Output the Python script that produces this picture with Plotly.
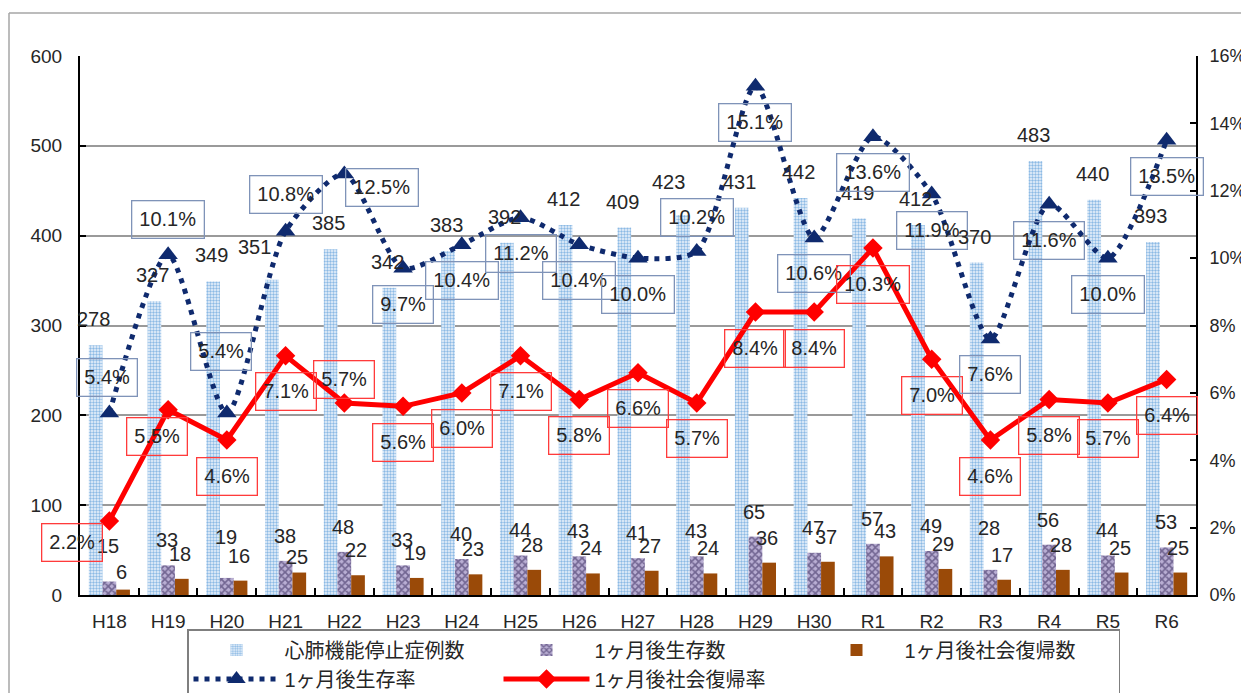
import plotly.graph_objects as go

# ── Data ──────────────────────────────────────────────────────────────────────

YEARS = ["H18", "H19", "H20", "H21", "H22", "H23", "H24", "H25", "H26", "H27",
         "H28", "H29", "H30", "R1", "R2", "R3", "R4", "R5", "R6"]
CASES = [278, 327, 349, 351, 385, 342, 383, 392, 412, 409,
         423, 431, 442, 419, 412, 370, 483, 440, 393]
SURVIVED = [15, 33, 19, 38, 48, 33, 40, 44, 43, 41,
            43, 65, 47, 57, 49, 28, 56, 44, 53]
RETURNED = [6, 18, 16, 25, 22, 19, 23, 28, 24, 27,
            24, 36, 37, 43, 29, 17, 28, 25, 25]
SURVIVAL_RATE = [5.4, 10.1, 5.4, 10.8, 12.5, 9.7, 10.4, 11.2, 10.4, 10.0,
                 10.2, 15.1, 10.6, 13.6, 11.9, 7.6, 11.6, 10.0, 13.5]
RETURN_RATE = [2.2, 5.5, 4.6, 7.1, 5.7, 5.6, 6.0, 7.1, 5.8, 6.6,
               5.7, 8.4, 8.4, 10.3, 7.0, 4.6, 5.8, 5.7, 6.4]
RATE_TICKS = list(range(0, 17, 2))

NAMES = ["心肺機能停止症例数", "1ヶ月後生存数", "1ヶ月後社会復帰数",
         "1ヶ月後生存率", "1ヶ月後社会復帰率"]

# ── Styling ───────────────────────────────────────────────────────────────────

# the page body has an 8px margin, so the figure is drawn 8px in from the corner
OFFSET = 8
W, H = 1249 - OFFSET, 693 - OFFSET
L, R, T, B = 80 - OFFSET, 53, 56 - OFFSET, 98
PLOT_W = W - L - R
PLOT_H = H - T - B
CAT_W = PLOT_W / len(YEARS)
BARGAP = 0.3
BAR_W = CAT_W * (1 - BARGAP) / 3

TEXT = "#262626"
NAVY = "#0f2a6e"
RED = "#ff0000"
BROWN = "#9a4a08"
BOX_BLUE = "#7f93b8"
BOX_RED = "#ff3b3b"
FRAME = "#a6a6a6"
FONT = "Liberation Sans, Arial, Noto Sans CJK JP, sans-serif"

# label nudges (px): (dx, dy_up) overrides of the default placement
CASE_NUDGE = {"H21": (-17, 33), "H28": (-15, 33)}
SURV_NUDGE = {"H18": (-1, 36), "H20": (-1, 41), "R3": (-1, 42)}
RET_NUDGE = {"H18": (-2, 18), "H21": (-2, 16)}
SRATE_NUDGE = {"H18": (-2, 36), "H19": (0, 35), "H20": (-6, 62), "H21": (0, 37),
               "H22": (38, -14), "H28": (0, 34)}
RRATE_NUDGE = {"H18": (-37, -22), "H19": (-11, -27), "H22": (0, 23)}


def px_to_paper_x(px):
    # px is a page pixel of the 1249x693 picture
    return (px - OFFSET - L) / PLOT_W


def px_to_paper_y(py):
    return (T + PLOT_H - (py - OFFSET)) / PLOT_H


fig = go.Figure()

fig.add_trace(go.Bar(
    x=YEARS, y=CASES, name=NAMES[0],
    marker=dict(color="#eef5fc", line=dict(width=0),
                pattern=dict(shape=".", fgcolor="#2a80cc", bgcolor="#eef5fc",
                             size=3, solidity=0.5)),
))
fig.add_trace(go.Bar(
    x=YEARS, y=SURVIVED, name=NAMES[1],
    marker=dict(color="#a99cc8", line=dict(width=0),
                pattern=dict(shape="x", fgcolor="#2a1c50", bgcolor="#b9aed3",
                             size=5, solidity=0.55)),
))
fig.add_trace(go.Bar(
    x=YEARS, y=RETURNED, name=NAMES[2],
    marker=dict(color=BROWN, line=dict(width=0)),
))
fig.add_trace(go.Scatter(
    x=YEARS, y=SURVIVAL_RATE, name=NAMES[3], yaxis="y2",
    mode="lines+markers", cliponaxis=False,
    line=dict(color=NAVY, width=5, dash="5px,6px", shape="spline", smoothing=0.7),
    marker=dict(symbol="triangle-up", size=17, color=NAVY),
))
fig.add_trace(go.Scatter(
    x=YEARS, y=RETURN_RATE, name=NAMES[4], yaxis="y2",
    mode="lines+markers", cliponaxis=False,
    line=dict(color=RED, width=5),
    marker=dict(symbol="diamond", size=15, color=RED),
))

annotations = []


def count_label(year, value, bar_dx, nudge, default_up=25, default_dx=-2):
    dx, up = nudge.get(year, (default_dx, default_up))
    annotations.append(dict(
        x=year, y=value, xref="x", yref="y", text=str(value),
        showarrow=False, xshift=bar_dx + dx, yshift=up, yanchor="middle",
        font=dict(size=20, color=TEXT),
    ))


def rate_label(year, value, nudge, border):
    dx, up = nudge.get(year, (0, -36))
    annotations.append(dict(
        x=year, y=value, xref="x", yref="y2", text=f"{value:.1f}%",
        showarrow=False, xshift=dx, yshift=up, yanchor="middle",
        font=dict(size=20, color=TEXT),
        bordercolor=border, borderwidth=1.3, borderpad=7,
    ))


for i, yr in enumerate(YEARS):
    count_label(yr, CASES[i], -BAR_W, CASE_NUDGE, default_up=26)
    count_label(yr, SURVIVED[i], 0, SURV_NUDGE, default_dx=-1)
    count_label(yr, RETURNED[i], BAR_W, RET_NUDGE)
    rate_label(yr, SURVIVAL_RATE[i], SRATE_NUDGE, BOX_BLUE)
    rate_label(yr, RETURN_RATE[i], RRATE_NUDGE, BOX_RED)

# outer chart frame: only left and top edges are inside the image
fig.add_shape(type="line", xref="paper", yref="paper",
              x0=px_to_paper_x(9), x1=px_to_paper_x(9),
              y0=px_to_paper_y(13), y1=px_to_paper_y(720),
              line=dict(color=FRAME, width=1.5), layer="below")
fig.add_shape(type="line", xref="paper", yref="paper",
              x0=px_to_paper_x(9), x1=px_to_paper_x(1280),
              y0=px_to_paper_y(13), y1=px_to_paper_y(13),
              line=dict(color=FRAME, width=1.5), layer="below")

fig.update_layout(
    width=W, height=H, autosize=False,
    margin=dict(l=L, r=R, t=T, b=B, pad=0, autoexpand=False),
    plot_bgcolor="white", paper_bgcolor="white",
    font=dict(family=FONT, color=TEXT, size=19),
    barmode="group", bargap=BARGAP, bargroupgap=0,
    annotations=annotations,
    showlegend=True,
    legend=dict(
        orientation="h", x=px_to_paper_x(187), y=px_to_paper_y(629),
        xanchor="left", yanchor="top",
        bordercolor="#7f7f7f", borderwidth=1.5,
        font=dict(size=20, color=TEXT),
        entrywidth=209, itemwidth=86, tracegroupgap=0,
    ),
    xaxis=dict(
        range=[-0.5, len(YEARS) - 0.5],
        showline=True, linecolor="black", linewidth=2,
        ticks="inside", tickson="boundaries", ticklen=7, tickwidth=1.5,
        tickcolor="black", tickfont=dict(size=19), ticklabelstandoff=8,
        showgrid=False,
    ),
    yaxis=dict(
        range=[0, 600], dtick=100, showline=True, linecolor="black", linewidth=2,
        ticks="inside", ticklen=6, tickwidth=1.5, tickcolor="black",
        showgrid=True, gridcolor="#9a9a9a", gridwidth=1.5, zeroline=False,
        tickfont=dict(size=19), ticklabelstandoff=12,
    ),
    yaxis2=dict(
        range=[0, 16], tickmode="array", tickvals=RATE_TICKS,
        ticktext=[f"{v}%" for v in RATE_TICKS],
        overlaying="y", side="right", showgrid=False, zeroline=False,
        showline=True, linecolor="black", linewidth=2,
        ticks="inside", ticklen=6, tickwidth=1.5, tickcolor="black",
        tickfont=dict(size=18, family="Liberation Sans Narrow, Liberation Sans, sans-serif"),
        ticklabelstandoff=8,
    ),
)

fig.write_html("out.html")
